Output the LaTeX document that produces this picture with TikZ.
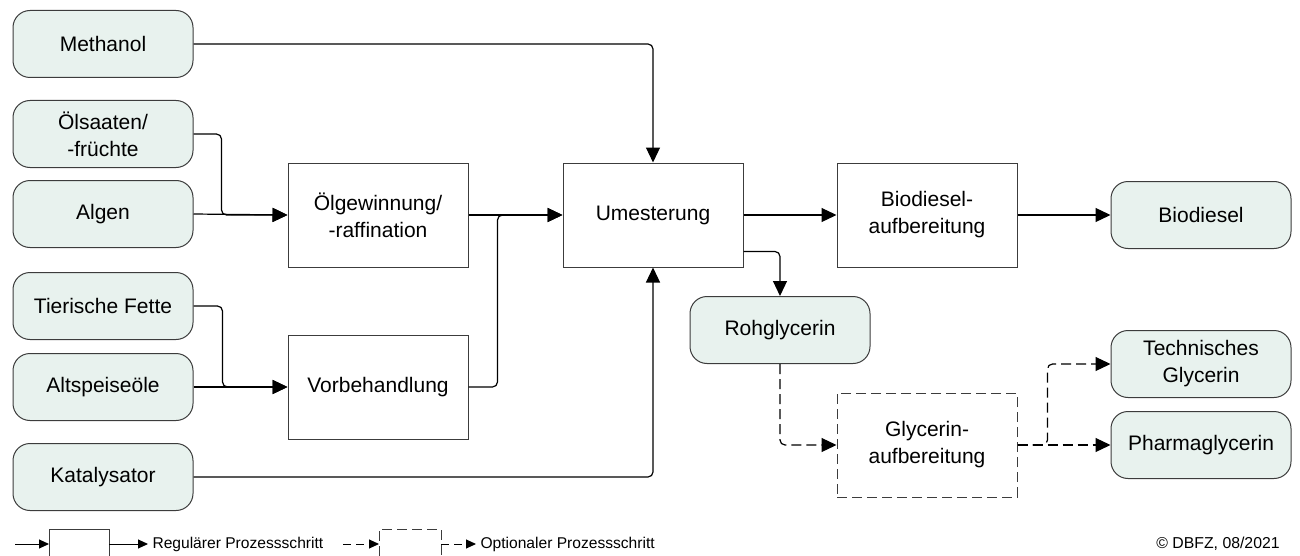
\documentclass[tikz,border=0pt]{standalone}
\usepackage{fontspec}
\setmainfont{Liberation Sans}
\usetikzlibrary{arrows.meta}
\definecolor{stofffill}{HTML}{E8F2EE}
\definecolor{rand}{HTML}{3C3C3C}
\begin{document}
\begin{tikzpicture}[x=0.5pt,y=-0.5pt,
  stoff/.style={draw=rand,fill=stofffill,line width=0.5pt,rounded corners=8.5pt,
    minimum width=90pt,minimum height=33.5pt,align=center,
    font=\fontsize{10.5}{13.5}\selectfont},
  prozess/.style={draw=rand,line width=0.5pt,minimum width=90pt,minimum height=52pt,
    align=center,font=\fontsize{10.5}{13.5}\selectfont},
  optional/.style={prozess,dash pattern=on 5pt off 2.5pt},
  pfeil/.style={-{Triangle[length=7.5pt,width=7pt]},line width=0.6pt,rounded corners=2.5pt},
  optpfeil/.style={pfeil,dash pattern=on 5pt off 2.5pt},
  lpfeil/.style={-{Triangle[length=5pt,width=4.5pt]},line width=0.5pt},
  loptpfeil/.style={lpfeil,dash pattern=on 4pt off 2.5pt},
  legende/.style={font=\fontsize{7.8}{9}\selectfont,inner sep=2pt}]
\useasboundingbox (0,0) rectangle (1300,556);
\node[stoff] (met) at (103,44) {Methanol};
\node[stoff] (oels) at (103,134) {Ölsaaten/\\-früchte};
\node[stoff] (alg) at (103,214) {Algen};
\node[stoff] (tie) at (103,306) {Tierische Fette};
\node[stoff] (alt) at (103,387) {Altspeiseöle};
\node[stoff] (kat) at (103,477) {Katalysator};
\node[prozess] (oelg) at (378,215) {Ölgewinnung/\\-raffination};
\node[prozess] (vorb) at (378,387) {Vorbehandlung};
\node[prozess] (umes) at (653,215) {Umesterung};
\node[prozess] (bioa) at (927,215) {Biodiesel-\\aufbereitung};
\node[stoff] (bio) at (1201,215) {Biodiesel};
\node[stoff] (roh) at (780,330) {Rohglycerin};
\node[optional] (glya) at (927,445) {Glycerin-\\aufbereitung};
\node[stoff] (tech) at (1201,364) {Technisches\\Glycerin};
\node[stoff] (pharm) at (1201,445) {Pharmaglycerin};
\draw[pfeil] (met.east) -| (umes.north);
\draw[pfeil] (oels.east) -- ++(28,0) |- (oelg.west);
\draw[pfeil] (alg.east) -- (oelg.west);
\draw[pfeil] (tie.east) -- ++(29,0) |- (vorb.west);
\draw[pfeil] (alt.east) -- (vorb.west);
\draw[pfeil] (oelg.east) -- (umes.west);
\draw[pfeil] (vorb.east) -- ++(29,0) |- (umes.west);
\draw[pfeil] (kat.east) -| (umes.south);
\draw[pfeil] (umes.east) -- (bioa.west);
\draw[pfeil] (bioa.east) -- (bio.west);
\draw[pfeil] ([yshift=8pt]umes.south east) -| (roh.north);
\draw[optpfeil] (roh.south) |- (glya.west);
\draw[optpfeil] (glya.east) -- (pharm.west);
\draw[optpfeil] (glya.east) -- ++(30,0) |- (tech.west);
\draw[lpfeil] (15,544) -- (49,544);
\draw[line width=0.5pt,draw=rand] (49,556) |- (109,529) -- (109,556);
\draw[lpfeil] (109,544) -- (148,544) node[legende,right] (reg) {Regulärer Prozessschritt};
\draw[loptpfeil] (343,544) -- (379,544);
\draw[line width=0.5pt,draw=rand,dash pattern=on 5pt off 2.5pt] (379,556) |- (441,529) -- (441,556);
\draw[loptpfeil] (441,544) -- (476,544) node[legende,right] (opt) {Optionaler Prozessschritt};
\node[anchor=east,font=\fontsize{7.9}{9}\selectfont,inner sep=0pt] (copy) at (1280,544) {© DBFZ, 08/2021};
\end{tikzpicture}
\end{document}
